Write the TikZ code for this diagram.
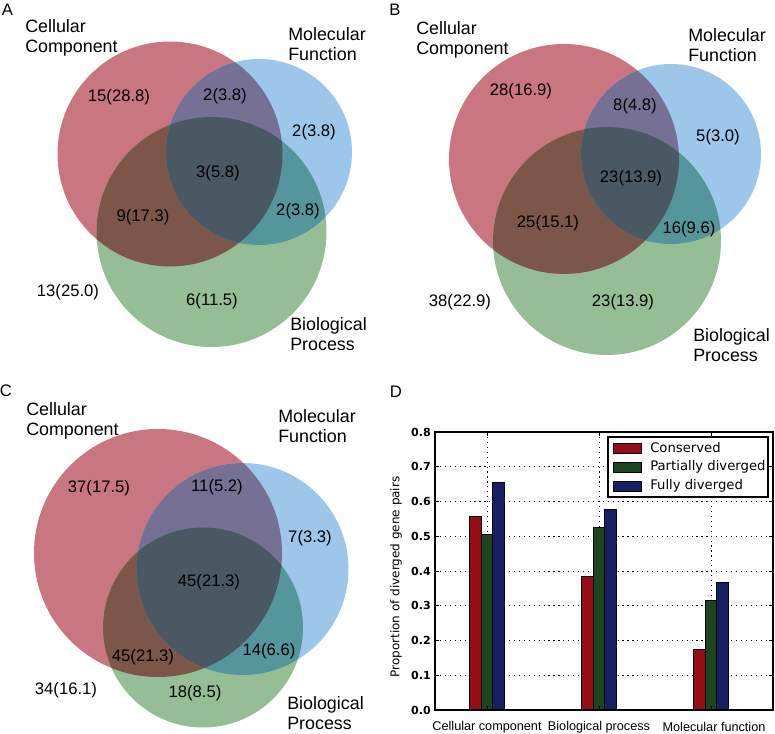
\documentclass[tikz,border=0pt]{standalone}
\usepackage{fontspec}
\setmainfont{Liberation Sans}
\newfontfamily\dejavu{DejaVu Sans}
\definecolor{cR}{RGB}{202,118,128}
\definecolor{cB}{RGB}{157,199,234}
\definecolor{cG}{RGB}{150,190,148}
\definecolor{cRB}{RGB}{118,112,148}
\definecolor{cRG}{RGB}{124,86,72}
\definecolor{cBG}{RGB}{84,150,156}
\definecolor{cRBG}{RGB}{74,88,100}
\definecolor{barR}{RGB}{150,12,22}
\definecolor{barG}{RGB}{28,68,30}
\definecolor{barB}{RGB}{22,30,100}
\newcommand{\myvenn}[9]{%
 \fill[cR] (#1,#2) circle[radius=#3];
 \fill[cB] (#4,#5) circle[radius=#6];
 \fill[cG] (#7,#8) circle[radius=#9];
 \begin{scope}
  \clip (#1,#2) circle[radius=#3];
  \fill[cRB] (#4,#5) circle[radius=#6];
  \fill[cRG] (#7,#8) circle[radius=#9];
 \end{scope}
 \begin{scope}
  \clip (#4,#5) circle[radius=#6];
  \fill[cBG] (#7,#8) circle[radius=#9];
  \clip (#1,#2) circle[radius=#3];
  \fill[cRBG] (#7,#8) circle[radius=#9];
 \end{scope}}
\newcommand{\mybar}[3]{\draw[fill=#3, line width=0.6pt] (#1,710) rectangle ({#1+11.67},{710-#2*347.5});}
\tikzset{
 setlabel/.style={anchor=west, align=left, inner sep=0pt, font=\fontsize{13.4}{15}\selectfont},
 count/.style={inner sep=0pt, font=\fontsize{12.5}{14}\selectfont},
 panel/.style={inner sep=0pt, font=\fontsize{12.5}{14}\selectfont},
 gridln/.style={black, line width=0.75pt, dash pattern=on 0.9pt off 2.8pt},
 axisbox/.style={black, line width=1pt},
 ytick/.style={anchor=east, inner sep=0pt, font=\dejavu\bfseries\fontsize{8.3}{9}\selectfont},
 xtick/.style={inner sep=0pt, font=\fontsize{9.5}{11}\selectfont},
 legtext/.style={anchor=west, inner sep=0pt, font=\dejavu\fontsize{9.9}{11}\selectfont},
 legpatch/.style={line width=0.75pt, draw=black},
}
\begin{document}
\begin{tikzpicture}[x=0.75pt,y=-0.75pt]
\path[use as bounding box, fill=white] (0,0) rectangle (775,734);
% ---------- Panel A ----------
\myvenn{170}{154}{112.5}{259}{152}{93}{211.5}{232}{115}
\node[panel] (pA) at (7.5,10) {A};
\node[setlabel] (aCC) at (25,38) {Cellular\\Component};
\node[setlabel] (aMF) at (288,44.5) {Molecular\\Function};
\node[setlabel] (aBP) at (290,334) {Biological\\Process};
\node[count] (a1) at (119,97) {15(28.8)};
\node[count] (a2) at (225,96) {2(3.8)};
\node[count] (a3) at (314,132) {2(3.8)};
\node[count] (a4) at (218,173) {3(5.8)};
\node[count] (a5) at (143,217) {9(17.3)};
\node[count] (a6) at (298,211) {2(3.8)};
\node[count] (a7) at (68,292) {13(25.0)};
\node[count] (a8) at (212,301) {6(11.5)};
% ---------- Panel B ----------
\myvenn{564}{159}{115}{671}{154}{90}{607}{241}{114}
\node[panel] (pB) at (395,10) {B};
\node[setlabel] (bCC) at (416,39.5) {Cellular\\Component};
\node[setlabel] (bMF) at (688,45.5) {Molecular\\Function};
\node[setlabel] (bBP) at (693,345) {Biological\\Process};
\node[count] (b1) at (521,91) {28(16.9)};
\node[count] (b2) at (635,106) {8(4.8)};
\node[count] (b3) at (718,137) {5(3.0)};
\node[count] (b4) at (631,178) {23(13.9)};
\node[count] (b5) at (548,223) {25(15.1)};
\node[count] (b6) at (689,229) {16(9.6)};
\node[count] (b7) at (460,302) {38(22.9)};
\node[count] (b8) at (623,302) {23(13.9)};
% ---------- Panel C ----------
\myvenn{158}{553}{124}{242.5}{569}{106}{203}{627.5}{100}
\node[panel] (pC) at (6,390.5) {C};
\node[setlabel] (cCC) at (26,421) {Cellular\\Component};
\node[setlabel] (cMF) at (278,426) {Molecular\\Function};
\node[setlabel] (cBP) at (287,713.5) {Biological\\Process};
\node[count] (c1) at (99,488) {37(17.5)};
\node[count] (c2) at (217,487) {11(5.2)};
\node[count] (c3) at (310,538) {7(3.3)};
\node[count] (c4) at (209,582) {45(21.3)};
\node[count] (c5) at (143,657) {45(21.3)};
\node[count] (c6) at (269,651) {14(6.6)};
\node[count] (c7) at (66,690) {34(16.1)};
\node[count] (c8) at (195,693) {18(8.5)};
% ---------- Panel D ----------
\node[panel] (pD) at (396,392) {D};
\foreach \v in {1,...,7} \draw[gridln] (435,{710-\v*34.75}) -- (773,{710-\v*34.75});
\foreach \t in {487,599,711} \draw[gridln] (\t,432) -- (\t,710);
\mybar{469.5}{0.557}{barR}
\mybar{481.17}{0.506}{barG}
\mybar{492.83}{0.655}{barB}
\mybar{581.5}{0.385}{barR}
\mybar{593.17}{0.525}{barG}
\mybar{604.83}{0.578}{barB}
\mybar{693.5}{0.173}{barR}
\mybar{705.17}{0.314}{barG}
\mybar{716.83}{0.366}{barB}
\foreach \v in {1,...,7} {
  \draw[line width=0.6pt] (435,{710-\v*34.75}) -- (439,{710-\v*34.75});
  \draw[line width=0.6pt] (773,{710-\v*34.75}) -- (769,{710-\v*34.75});
}
\foreach \t in {487,599,711} {
  \draw[line width=0.6pt] (\t,710) -- (\t,706);
  \draw[line width=0.6pt] (\t,432) -- (\t,436);
}
\draw[axisbox] (435,432) rectangle (773,710);
\foreach \v/\lab in {0/0.0,1/0.1,2/0.2,3/0.3,4/0.4,5/0.5,6/0.6,7/0.7,8/0.8}
  \node[ytick] (yt\v) at (431,{710-\v*34.75}) {\lab};
\node[rotate=90, inner sep=0pt, font=\dejavu\fontsize{9}{10}\selectfont] (ylab) at (396,577) {Proportion of diverged gene pairs};
\node[xtick] (xt1) at (487,727) {Cellular component};
\node[xtick] (xt2) at (599,727) {Biological process};
\node[xtick] (xt3) at (714,727) {Molecular function};
% legend
\draw[fill=white, line width=0.9pt] (608,437) rectangle (768,497);
\draw[legpatch, fill=barR] (613,443) rectangle (641,453);
\draw[legpatch, fill=barG] (613,462) rectangle (641,472);
\draw[legpatch, fill=barB] (613,481) rectangle (641,491);
\node[legtext] (l1) at (650,448) {Conserved};
\node[legtext] (l2) at (650,467) {Partially diverged};
\node[legtext] (l3) at (650,486) {Fully diverged};
\end{tikzpicture}
\end{document}
